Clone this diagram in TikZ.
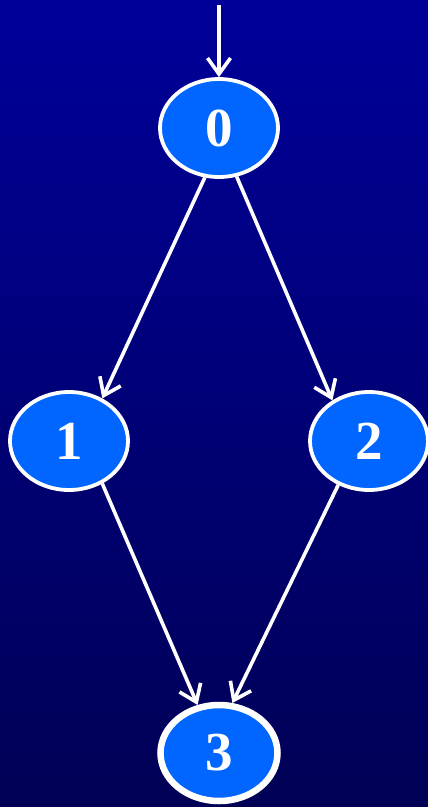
\documentclass[tikz,border=0pt]{standalone}
\usepackage{fontspec}
\setmainfont{Liberation Serif}
\usetikzlibrary{arrows.meta,shapes.geometric}
\definecolor{bgtop}{RGB}{0,0,153}
\definecolor{bgbot}{RGB}{0,0,85}
\definecolor{nodefill}{RGB}{0,102,255}
\begin{document}
\begin{tikzpicture}[x=1pt,y=-1pt,
  state/.style={ellipse, draw=white, line width=3.8pt, fill=nodefill,
    minimum width=118pt, minimum height=98pt, inner sep=0pt,
    text=white, font=\fontsize{55}{55}\selectfont\bfseries},
  finalstate/.style={state, line width=6.5pt, minimum width=117pt, minimum height=96pt},
  edge/.style={draw=white, line width=3.6pt, -{Straight Barb[length=16pt,width=23pt,line width=3.6pt]}}]
\shade[top color=bgtop, bottom color=bgbot] (0,0) rectangle (428,807);
\useasboundingbox (0,0) rectangle (428,807);
\node[state] (n0) at (219,128) {0};
\node[state] (n1) at (69,441) {1};
\node[state] (n2) at (369,441) {2};
\node[finalstate] (n3) at (219,753) {3};
\coordinate (start) at (219,5);
\draw[edge] (start) -- (n0.north);
\draw[edge] (n0.254) -- (n1.52);
\draw[edge] (n0.290) -- (n2.132);
\draw[edge] (n1.308) -- (n3.114);
\draw[edge] (n2.235) -- (n3.75);
\end{tikzpicture}
\end{document}
